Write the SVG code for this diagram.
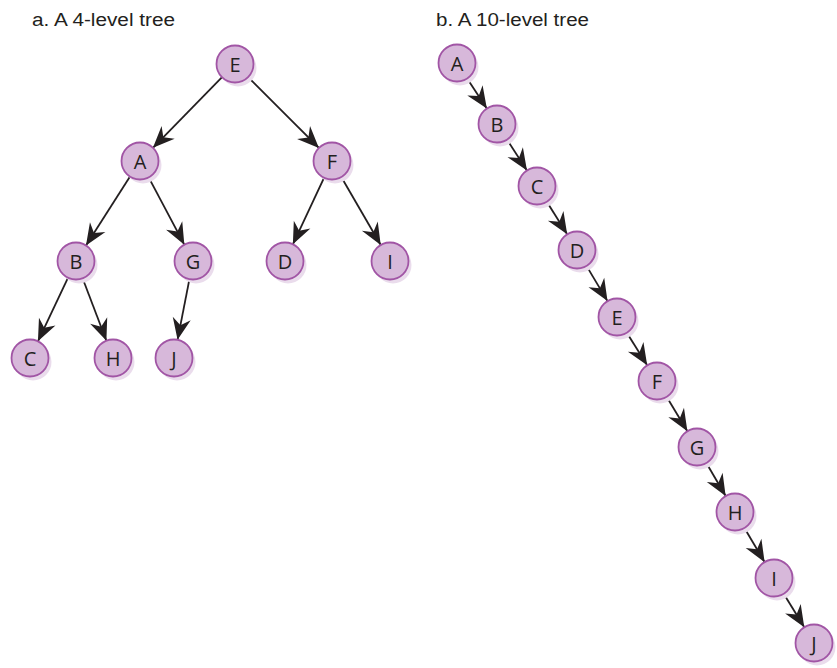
<svg xmlns="http://www.w3.org/2000/svg" width="837" height="668" viewBox="0 0 837 668">
<style>
.sh{fill:#eadcec;stroke:none}
.nd{fill:#d7b8da;stroke:#a155a5;stroke-width:1.8}
.lb{font-family:"Open Sans","Liberation Sans",sans-serif;font-size:20px;fill:#231f20;text-anchor:middle;dominant-baseline:central}
.tt{font-family:"Liberation Sans",Arial,sans-serif;font-size:18px;fill:#231f20}
.ed{stroke:#231f20;stroke-width:1.8;fill:none;marker-end:url(#ah)}
</style>
<defs>
<marker id="ah" markerUnits="userSpaceOnUse" orient="auto" markerWidth="24" markerHeight="24" refX="0" refY="0" viewBox="-20 -10 21 20" overflow="visible">
<path d="M0,0 L-19,-8 L-13,0 L-19,8 Z" fill="#231f20"/>
</marker>
<g id="nshape">
<circle class="sh" cx="3" cy="4" r="18.5"/>
<circle class="nd" cx="0" cy="0" r="18.5"/>
</g>
</defs>
<text class="tt" x="32" y="26" textLength="143" lengthAdjust="spacingAndGlyphs">a. A 4-level tree</text>
<text class="tt" x="436" y="26" textLength="153" lengthAdjust="spacingAndGlyphs">b. A 10-level tree</text>
<g id="connectors">
<line class="ed" x1="222.06" y1="77.21" x2="152.94" y2="147.79"/>
<line class="ed" x1="248.08" y1="77.08" x2="318.92" y2="147.92"/>
<line class="ed" x1="130.03" y1="176.58" x2="85.97" y2="245.42"/>
<line class="ed" x1="148.66" y1="177.34" x2="184.34" y2="244.66"/>
<line class="ed" x1="324.13" y1="177.74" x2="292.87" y2="244.26"/>
<line class="ed" x1="341.28" y1="177.00" x2="380.72" y2="244.99"/>
<line class="ed" x1="68.07" y1="277.72" x2="37.93" y2="341.28"/>
<line class="ed" x1="82.59" y1="278.29" x2="106.41" y2="340.71"/>
<line class="ed" x1="189.44" y1="279.16" x2="177.56" y2="339.84"/>
<line class="ed" x1="467.15" y1="78.47" x2="486.85" y2="108.53"/>
<line class="ed" x1="507.03" y1="139.54" x2="526.97" y2="170.46"/>
<line class="ed" x1="546.80" y1="201.69" x2="567.20" y2="234.31"/>
<line class="ed" x1="586.49" y1="265.89" x2="607.51" y2="301.11"/>
<line class="ed" x1="626.80" y1="332.69" x2="647.20" y2="365.31"/>
<line class="ed" x1="666.59" y1="396.82" x2="687.41" y2="431.18"/>
<line class="ed" x1="706.34" y1="462.97" x2="725.66" y2="496.03"/>
<line class="ed" x1="744.41" y1="527.93" x2="764.59" y2="562.07"/>
<line class="ed" x1="783.70" y1="593.76" x2="804.30" y2="627.24"/>
</g>
<g id="a-E" transform="translate(235,64)"><use href="#nshape"/><text class="lb">E</text></g>
<g id="a-A" transform="translate(140,161)"><use href="#nshape"/><text class="lb">A</text></g>
<g id="a-F" transform="translate(332,161)"><use href="#nshape"/><text class="lb">F</text></g>
<g id="a-B" transform="translate(76,261)"><use href="#nshape"/><text class="lb">B</text></g>
<g id="a-G" transform="translate(193,261)"><use href="#nshape"/><text class="lb">G</text></g>
<g id="a-D" transform="translate(285,261)"><use href="#nshape"/><text class="lb">D</text></g>
<g id="a-I" transform="translate(390,261)"><use href="#nshape"/><text class="lb">I</text></g>
<g id="a-C" transform="translate(30,358)"><use href="#nshape"/><text class="lb">C</text></g>
<g id="a-H" transform="translate(113,358)"><use href="#nshape"/><text class="lb">H</text></g>
<g id="a-J" transform="translate(174,358)"><use href="#nshape"/><text class="lb">J</text></g>
<g id="b-A" transform="translate(457,63)"><use href="#nshape"/><text class="lb">A</text></g>
<g id="b-B" transform="translate(497,124)"><use href="#nshape"/><text class="lb">B</text></g>
<g id="b-C" transform="translate(537,186)"><use href="#nshape"/><text class="lb">C</text></g>
<g id="b-D" transform="translate(577,250)"><use href="#nshape"/><text class="lb">D</text></g>
<g id="b-E" transform="translate(617,317)"><use href="#nshape"/><text class="lb">E</text></g>
<g id="b-F" transform="translate(657,381)"><use href="#nshape"/><text class="lb">F</text></g>
<g id="b-G" transform="translate(697,447)"><use href="#nshape"/><text class="lb">G</text></g>
<g id="b-H" transform="translate(735,512)"><use href="#nshape"/><text class="lb">H</text></g>
<g id="b-I" transform="translate(774,578)"><use href="#nshape"/><text class="lb">I</text></g>
<g id="b-J" transform="translate(814,643)"><use href="#nshape"/><text class="lb">J</text></g>
</svg>
